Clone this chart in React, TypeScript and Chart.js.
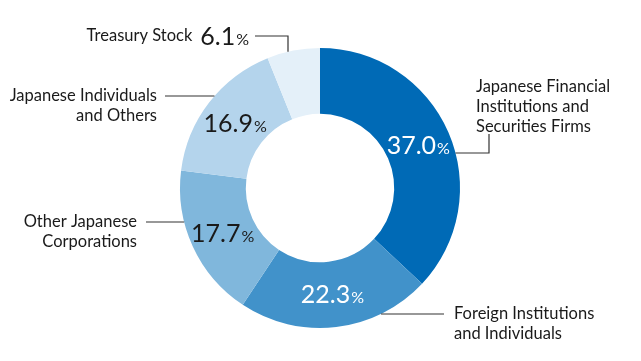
import React, { useEffect, useRef } from "react";
import { Chart, registerables } from "chart.js";

Chart.register(...registerables);

const categories = [
  "Japanese Financial Institutions and Securities Firms",
  "Foreign Institutions and Individuals",
  "Other Japanese Corporations",
  "Japanese Individuals and Others",
  "Treasury Stock",
];
const labelLines = [
  ["Japanese Financial", "Institutions and", "Securities Firms"],
  ["Foreign Institutions", "and Individuals"],
  ["Other Japanese", "Corporations"],
  ["Japanese Individuals", "and Others"],
  ["Treasury Stock"],
];
const values = [37.0, 22.3, 17.7, 16.9, 6.1];
const colors = ["#006AB6", "#4192CA", "#80B7DC", "#B4D4EC", "#E4F0F9"];
const valueTextColors = ["#ffffff", "#ffffff", "#1a1a1a", "#1a1a1a", "#1a1a1a"];

const FONT = "Lato, 'Noto Sans', sans-serif";
const TEXT = "#1a1a1a";
const LINE = "#333333";

function drawPct(ctx: CanvasRenderingContext2D, num: string, x: number, y: number, color: string, align: "center" | "right") {
  ctx.save();
  ctx.fillStyle = color;
  ctx.textBaseline = "alphabetic";
  ctx.font = `25px ${FONT}`;
  const wn = ctx.measureText(num).width;
  ctx.font = `16px ${FONT}`;
  const wp = ctx.measureText("%").width;
  const total = wn + 1 + wp;
  const left = align === "center" ? x - total / 2 : x - total;
  const base = y + 9;
  ctx.textAlign = "left";
  ctx.font = `25px ${FONT}`;
  ctx.fillText(num, left, base);
  ctx.font = `16px ${FONT}`;
  ctx.fillText("%", left + wn + 1, base);
  ctx.restore();
  return total;
}

function drawLines(ctx: CanvasRenderingContext2D, lines: string[], x: number, y: number, align: "left" | "right") {
  ctx.save();
  ctx.fillStyle = TEXT;
  ctx.font = `16.5px ${FONT}`;
  ctx.textAlign = align;
  ctx.textBaseline = "middle";
  lines.forEach((l, i) => ctx.fillText(l, x, y + i * 20));
  ctx.restore();
}

function seg(ctx: CanvasRenderingContext2D, pts: [number, number][]) {
  ctx.save();
  ctx.strokeStyle = LINE;
  ctx.lineWidth = 1.2;
  ctx.beginPath();
  pts.forEach((p, i) => (i ? ctx.lineTo(p[0], p[1]) : ctx.moveTo(p[0], p[1])));
  ctx.stroke();
  ctx.restore();
}

const calloutPlugin = {
  id: "callouts",
  afterDraw(chart: any) {
    const ctx: CanvasRenderingContext2D = chart.ctx;
    const meta = chart.getDatasetMeta(0);
    const a0 = meta.data[0];
    const cx = a0.x, cy = a0.y, R = a0.outerRadius;
    const edgeX = (dy: number) => Math.sqrt(R * R - dy * dy);

    meta.data.forEach((arc: any, i: number) => {
      if (i === 4) return;
      const mid = (arc.startAngle + arc.endAngle) / 2;
      const r = (arc.innerRadius + arc.outerRadius) / 2;
      drawPct(ctx, values[i].toFixed(1), cx + Math.cos(mid) * r, cy + Math.sin(mid) * r, valueTextColors[i], "center");
    });

    {
      const ly = cy - 35;
      seg(ctx, [[cx + edgeX(35), ly], [cx + 169, ly], [cx + 169, cy - 54]]);
      drawLines(ctx, labelLines[0], cx + 156, cy - 101, "left");
    }
    {
      const ly = cy + 126;
      seg(ctx, [[cx + edgeX(126), ly], [cx + 124, ly]]);
      drawLines(ctx, labelLines[1], cx + 134, ly, "left");
    }
    {
      const ly = cy + 34;
      seg(ctx, [[cx - 174, ly], [cx - edgeX(34), ly]]);
      drawLines(ctx, labelLines[2], cx - 183, ly, "right");
    }
    {
      const ly = cy - 92;
      seg(ctx, [[cx - 155, ly], [cx - edgeX(92), ly]]);
      drawLines(ctx, labelLines[3], cx - 163, ly, "right");
    }
    {
      const ly = cy - 152;
      const vx = cx - 32;
      seg(ctx, [[cx - 65, ly], [vx, ly], [vx, cy - edgeX(32)]]);
      const w = drawPct(ctx, values[4].toFixed(1), cx - 71, ly, TEXT, "right");
      drawLines(ctx, labelLines[4], cx - 71 - w - 8, ly, "right");
    }
  },
};

export default function App() {
  const ref = useRef<HTMLCanvasElement>(null);
  useEffect(() => {
    if (!ref.current) return;
    const chart = new Chart(ref.current, {
      type: "doughnut",
      data: {
        labels: categories,
        datasets: [
          {
            data: values,
            backgroundColor: colors,
            borderWidth: 0,
          },
        ],
      },
      options: {
        responsive: false,
        animation: false,
        cutout: "53%",
        layout: { padding: { left: 180, right: 181, top: 48, bottom: 33 } },
        plugins: { legend: { display: false }, tooltip: { enabled: false } },
      },
      plugins: [calloutPlugin],
    });
    return () => chart.destroy();
  }, []);
  return (
    <div style={{ position: "absolute", left: 0, top: 0, width: 641, height: 361, background: "#fff" }}>
      <canvas ref={ref} width={641} height={361} />
    </div>
  );
}
